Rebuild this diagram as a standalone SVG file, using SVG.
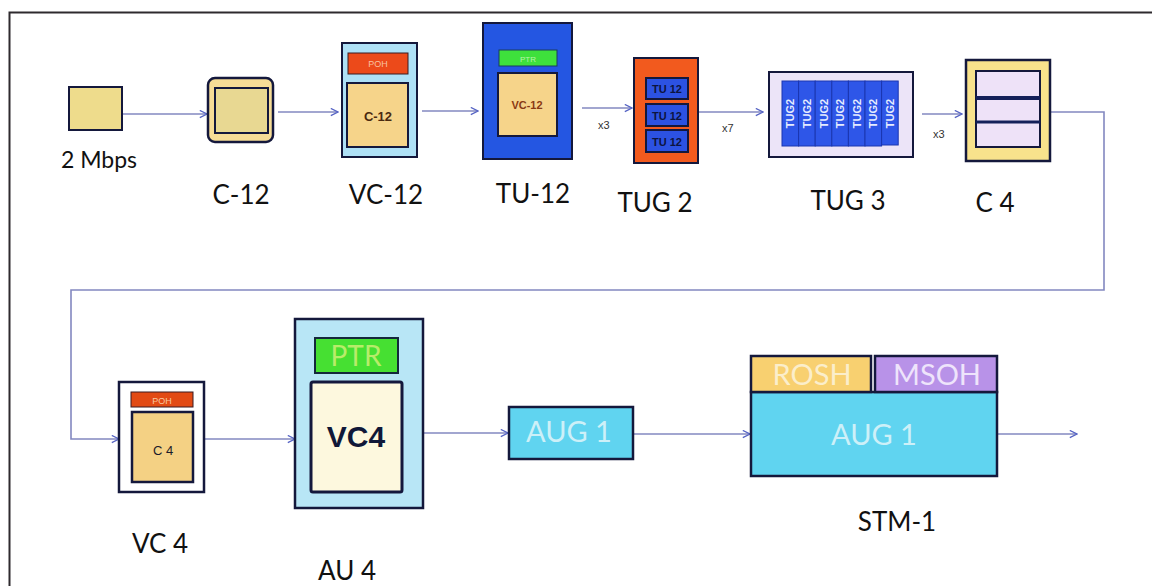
<svg xmlns="http://www.w3.org/2000/svg" width="1152" height="586" viewBox="0 0 1152 586">
  <style>
    .frame { stroke: #2e2a2e; stroke-width: 2; fill: none; }
    .edge { stroke: #8388c0; stroke-width: 1.6; fill: none; marker-end: url(#arrow); }
    .nav { stroke: #14183c; stroke-width: 2; }
    .nav3 { stroke: #14183c; stroke-width: 2.5; }
    .label { font-family: Lato, "Open Sans", "Liberation Sans", sans-serif; font-size: 26px; fill: #111; text-anchor: middle; }
    .mult { font-family: "Liberation Sans", Arial, sans-serif; font-size: 11px; fill: #333; }
    .tiny { font-family: "Liberation Sans", Arial, sans-serif; font-weight: bold; text-anchor: middle; }
    .pale { font-family: Lato, "Open Sans", sans-serif; fill: #f2f6ee; text-anchor: middle; }
    .tug { font-family: "Liberation Sans", Arial, sans-serif; font-weight: bold; font-size: 11px; fill: #e6ecff; text-anchor: middle; }
  </style>
  <defs>
    <marker id="arrow" viewBox="0 0 10 10" refX="9" refY="5" markerWidth="9" markerHeight="9" markerUnits="userSpaceOnUse" orient="auto">
      <path d="M1,1 L9,5 L1,9" fill="none" stroke="#5563c4" stroke-width="1.4"/>
    </marker>
  </defs>

  <rect width="1152" height="586" fill="#ffffff"/>
  <!-- outer frame: top and left edges only -->
  <path class="frame" d="M1152,12.5 H9.5 V586"/>

  <!-- connectors -->
  <g id="connectors">
    <line class="edge" x1="122" y1="114" x2="207" y2="114"/>
    <line class="edge" x1="278" y1="112" x2="338" y2="112"/>
    <line class="edge" x1="422" y1="111" x2="478" y2="111"/>
    <line class="edge" x1="582" y1="108" x2="632" y2="108"/>
    <line class="edge" x1="699" y1="112" x2="763" y2="112"/>
    <line class="edge" x1="922" y1="114" x2="962" y2="114"/>
    <path class="edge" d="M1050,112 H1104 V290 H71 V439 H119"/>
    <line class="edge" x1="204" y1="439" x2="295" y2="439"/>
    <line class="edge" x1="423" y1="433" x2="508" y2="433"/>
    <line class="edge" x1="633" y1="434" x2="750" y2="434"/>
    <line class="edge" x1="997" y1="434" x2="1077" y2="434"/>
    <text class="mult" x="598" y="129">x3</text>
    <text class="mult" x="722" y="132">x7</text>
    <text class="mult" x="933" y="138">x3</text>
  </g>

  <!-- 2 Mbps tributary -->
  <g id="n-2mbps">
    <rect class="nav" x="69" y="87" width="53" height="43" fill="#eedc8c"/>
    <text class="label" x="99" y="168" style="font-size:23px">2 Mbps</text>
  </g>

  <!-- container C-12 -->
  <g id="n-c12">
    <rect class="nav3" x="208" y="78" width="65" height="64" rx="7" fill="#f6dc96"/>
    <rect class="nav" x="215" y="88" width="53" height="45" fill="#e8d892"/>
    <text class="label" x="241" y="204">C-12</text>
  </g>

  <!-- virtual container VC-12 -->
  <g id="n-vc12">
    <rect class="nav" x="342" y="43" width="75" height="114" fill="#aee0f6"/>
    <rect x="348" y="53" width="60" height="21" fill="#ec4a1a" stroke="#3a1a20" stroke-width="1"/>
    <text class="tiny" x="378" y="67" style="font-size:9px;fill:#f8c0a0;font-weight:normal">POH</text>
    <rect class="nav" x="347" y="83" width="61" height="64" fill="#f6d48a"/>
    <text class="tiny" x="378" y="121" style="font-size:13px;fill:#4a2a10">C-12</text>
    <text class="label" x="386" y="204">VC-12</text>
  </g>

  <!-- tributary unit TU-12 -->
  <g id="n-tu12">
    <rect class="nav" x="483" y="23" width="89" height="136" fill="#2456e2"/>
    <rect x="499" y="50" width="58" height="16" fill="#3ee03c" stroke="#1a3a60" stroke-width="1"/>
    <text class="tiny" x="528" y="61.5" style="font-size:8px;fill:#b8f4a8;font-weight:normal">PTR</text>
    <rect class="nav" x="498" y="73" width="59" height="63" fill="#f6d48a"/>
    <text class="tiny" x="527" y="109" style="font-size:11px;fill:#8a3a14">VC-12</text>
    <text class="label" x="533" y="203">TU-12</text>
  </g>

  <!-- tributary unit group TUG 2 -->
  <g id="n-tug2">
    <rect class="nav" x="634" y="58" width="64" height="105" fill="#f25a1e"/>
    <rect class="nav" x="646" y="78" width="42" height="21" fill="#2c52e2"/>
    <rect class="nav" x="646" y="104" width="42" height="22" fill="#2c52e2"/>
    <rect class="nav" x="646" y="130" width="42" height="22" fill="#2c52e2"/>
    <text class="tiny" x="667" y="93" style="font-size:11px;fill:#0c1440">TU 12</text>
    <text class="tiny" x="667" y="119.5" style="font-size:11px;fill:#0c1440">TU 12</text>
    <text class="tiny" x="667" y="145.5" style="font-size:11px;fill:#0c1440">TU 12</text>
    <text class="label" x="655" y="212">TUG 2</text>
  </g>

  <!-- tributary unit group TUG 3 -->
  <g id="n-tug3">
    <rect class="nav" x="769" y="72" width="144" height="85" fill="#ece4f8"/>
    <g fill="#2e56e8" stroke="#1a36b0" stroke-width="1">
      <rect x="782" y="81" width="16.6" height="65"/>
      <rect x="798.6" y="81" width="16.6" height="65"/>
      <rect x="815.2" y="81" width="16.6" height="65"/>
      <rect x="831.8" y="81" width="16.6" height="65"/>
      <rect x="848.4" y="81" width="16.6" height="65"/>
      <rect x="865" y="81" width="16.6" height="65"/>
      <rect x="881.6" y="81" width="16.6" height="64"/>
    </g>
    <text class="tug" transform="translate(794.3,113.5) rotate(-90)">TUG2</text>
    <text class="tug" transform="translate(810.9,113.5) rotate(-90)">TUG2</text>
    <text class="tug" transform="translate(827.5,113.5) rotate(-90)">TUG2</text>
    <text class="tug" transform="translate(844.1,113.5) rotate(-90)">TUG2</text>
    <text class="tug" transform="translate(860.7,113.5) rotate(-90)">TUG2</text>
    <text class="tug" transform="translate(877.3,113.5) rotate(-90)">TUG2</text>
    <text class="tug" transform="translate(893.9,113.5) rotate(-90)">TUG2</text>
    <text class="label" x="848" y="210">TUG 3</text>
  </g>

  <!-- container C 4 -->
  <g id="n-c4">
    <rect class="nav3" x="966" y="60" width="84" height="101" fill="#f8e28c"/>
    <rect class="nav" x="976" y="71" width="64" height="76" fill="#eee2f8"/>
    <line x1="976" y1="98" x2="1040" y2="98" stroke="#14205a" stroke-width="4"/>
    <line x1="976" y1="122" x2="1040" y2="122" stroke="#14205a" stroke-width="3"/>
    <text class="label" x="995" y="212">C 4</text>
  </g>

  <!-- virtual container VC 4 -->
  <g id="n-vc4">
    <rect class="nav3" x="119" y="382" width="85" height="110" fill="#ffffff"/>
    <rect x="131" y="392" width="62" height="15" fill="#e24a14" stroke="#3a1a20" stroke-width="1"/>
    <text class="tiny" x="162" y="403.5" style="font-size:9px;fill:#f8c8a0;font-weight:normal">POH</text>
    <rect class="nav3" x="132" y="412" width="61" height="70" fill="#f4d184"/>
    <text class="tiny" x="163" y="455" style="font-size:13px;fill:#1a1a2a;font-weight:normal">C 4</text>
    <text class="label" x="160" y="553">VC 4</text>
  </g>

  <!-- administrative unit AU 4 -->
  <g id="n-au4">
    <rect class="nav3" x="295" y="319" width="128" height="189" fill="#b8e6f6"/>
    <rect x="315" y="338" width="83" height="35" fill="#46e032" stroke="#14283c" stroke-width="2"/>
    <text class="pale" x="356" y="366" style="font-size:28px;fill:#b8ec6a">PTR</text>
    <rect x="311" y="382" width="91" height="110" fill="#fdf8de" stroke="#14183c" stroke-width="3" rx="2"/>
    <text x="356" y="447" text-anchor="middle" style="font-family:'Liberation Sans',Arial,sans-serif;font-weight:bold;font-size:30px;fill:#101838">VC4</text>
    <text class="label" x="347" y="580">AU 4</text>
  </g>

  <!-- administrative unit group AUG 1 -->
  <g id="n-aug1">
    <rect class="nav3" x="509" y="407" width="124" height="52" fill="#60d4f0"/>
    <text class="pale" x="569" y="442" style="font-size:29px;fill:#cdf0f8">AUG 1</text>
  </g>

  <!-- STM-1 frame -->
  <g id="n-stm1">
    <rect x="751" y="392" width="246" height="84" fill="#60d4f0" stroke="#14183c" stroke-width="2.5"/>
    <rect x="751" y="356" width="120" height="36" fill="#f8d070" stroke="#14183c" stroke-width="2.5"/>
    <rect x="875" y="356" width="122" height="36" fill="#b892e8" stroke="#14183c" stroke-width="2.5"/>
    <text class="pale" x="812" y="385" style="font-size:29px;fill:#fbeecb">ROSH</text>
    <text class="pale" x="937" y="385" style="font-size:29px;fill:#eee4fb">MSOH</text>
    <text class="pale" x="874" y="445" style="font-size:29px;fill:#cdf0f8">AUG 1</text>
    <text class="label" x="897" y="531">STM-1</text>
  </g>
</svg>
